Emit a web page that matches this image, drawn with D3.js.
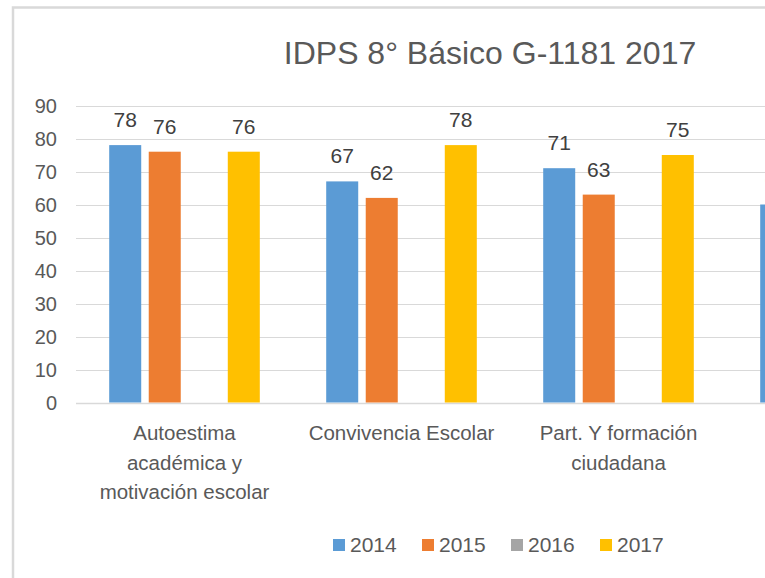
<!DOCTYPE html>
<html>
<head>
<meta charset="utf-8">
<script src="https://cdn.jsdelivr.net/npm/d3@7"></script>
<style>
  html, body { margin: 0; padding: 0; background: #fff; overflow: hidden; }
  svg { display: block; font-family: "Liberation Sans", Arial, sans-serif; }
</style>
</head>
<body>
<svg id="chart" width="765" height="578"></svg>
<script>
// ---- data ----
const title = "IDPS 8° Básico G-1181 2017";
const categories = [
  "Autoestima académica y motivación escolar",
  "Convivencia Escolar",
  "Part. Y formación ciudadana",
  "Hábitos de vida saludable"
];
const categoryLines = [
  ["Autoestima", "académica y", "motivación escolar"],
  ["Convivencia Escolar"],
  ["Part. Y formación", "ciudadana"],
  ["Hábitos de vida", "saludable"]
];
const seriesNames = ["2014", "2015", "2016", "2017"];
const values2014 = [78, 67, 71, 60];
const values2015 = [76, 62, 63, null];
const values2016 = [null, null, null, null];
const values2017 = [76, 78, 75, null];
const seriesColors = ["#5b9bd5", "#ed7d31", "#a5a5a5", "#ffc000"];
const yTicks = [0, 10, 20, 30, 40, 50, 60, 70, 80, 90];

const seriesValues = [values2014, values2015, values2016, values2017];

// ---- layout ----
const svg = d3.select("#chart");
const W = 765, H = 578;
const plotLeft = 76, plotTop = 105.5, plotBottom = 402.5;
const catStep = 217;

// chart border (frame cropped at right and bottom)
svg.append("rect")
  .attr("x", 13).attr("y", 7.5)
  .attr("width", 900).attr("height", 620)
  .attr("fill", "#fff")
  .attr("stroke", "#d9d9d9").attr("stroke-width", 2.5);

const x0 = d3.scaleBand()
  .domain(categories)
  .range([plotLeft, plotLeft + catStep * categories.length])
  .paddingInner(0).paddingOuter(0);

const x1 = d3.scaleBand()
  .domain(seriesNames)
  .range([0, x0.bandwidth()])
  .paddingInner(0.19).paddingOuter(0.84);

const y = d3.scaleLinear().domain([0, 90]).range([plotBottom, plotTop]);

// gridlines
svg.append("g").selectAll("line")
  .data(yTicks)
  .join("line")
  .attr("x1", plotLeft).attr("x2", W)
  .attr("y1", d => Math.round(y(d)) + 0.5).attr("y2", d => Math.round(y(d)) + 0.5)
  .attr("stroke", "#d9d9d9").attr("stroke-width", d => d === 0 ? 1.5 : 1);

// y axis labels
svg.append("g").selectAll("text")
  .data(yTicks)
  .join("text")
  .attr("x", 57).attr("y", d => y(d))
  .attr("dy", "0.35em")
  .attr("text-anchor", "end")
  .attr("font-size", 20)
  .attr("fill", "#595959")
  .text(d => d);

// bars
const rows = [];
categories.forEach((c, i) => {
  seriesNames.forEach((s, j) => {
    const v = seriesValues[j][i];
    if (v != null) rows.push({ cat: c, series: s, value: v, color: seriesColors[j] });
  });
});

svg.append("g").selectAll("rect")
  .data(rows)
  .join("rect")
  .attr("x", d => x0(d.cat) + x1(d.series))
  .attr("y", d => y(d.value))
  .attr("width", x1.bandwidth())
  .attr("height", d => y(0) - y(d.value))
  .attr("fill", d => d.color);

// data labels
svg.append("g").selectAll("text")
  .data(rows)
  .join("text")
  .attr("x", d => x0(d.cat) + x1(d.series) + x1.bandwidth() / 2)
  .attr("y", d => y(d.value) - 18)
  .attr("text-anchor", "middle")
  .attr("font-size", 21)
  .attr("fill", "#404040")
  .text(d => d.value);

// category labels
const catG = svg.append("g").selectAll("g")
  .data(categories)
  .join("g")
  .attr("transform", d => `translate(${x0(d) + x0.bandwidth() / 2},0)`);
catG.each(function(d, i) {
  d3.select(this).selectAll("text")
    .data(categoryLines[i])
    .join("text")
    .attr("x", 0)
    .attr("y", (t, k) => 440 + k * 29.5)
    .attr("text-anchor", "middle")
    .attr("font-size", 20.5)
    .attr("fill", "#595959")
    .text(t => t);
});

// title
svg.append("text")
  .attr("x", 490).attr("y", 64)
  .attr("text-anchor", "middle")
  .attr("font-size", 32)
  .attr("fill", "#595959")
  .text(title);

// legend
const legendX = d3.scaleBand().domain(seriesNames).range([333, 689]);
const leg = svg.append("g").selectAll("g")
  .data(seriesNames)
  .join("g")
  .attr("transform", d => `translate(${legendX(d)},0)`);
leg.append("rect")
  .attr("x", 0).attr("y", 539)
  .attr("width", 12).attr("height", 12)
  .attr("fill", (d, i) => seriesColors[i]);
leg.append("text")
  .attr("x", 17).attr("y", 552)
  .attr("font-size", 21)
  .attr("fill", "#595959")
  .text(d => d);
</script>
</body>
</html>
